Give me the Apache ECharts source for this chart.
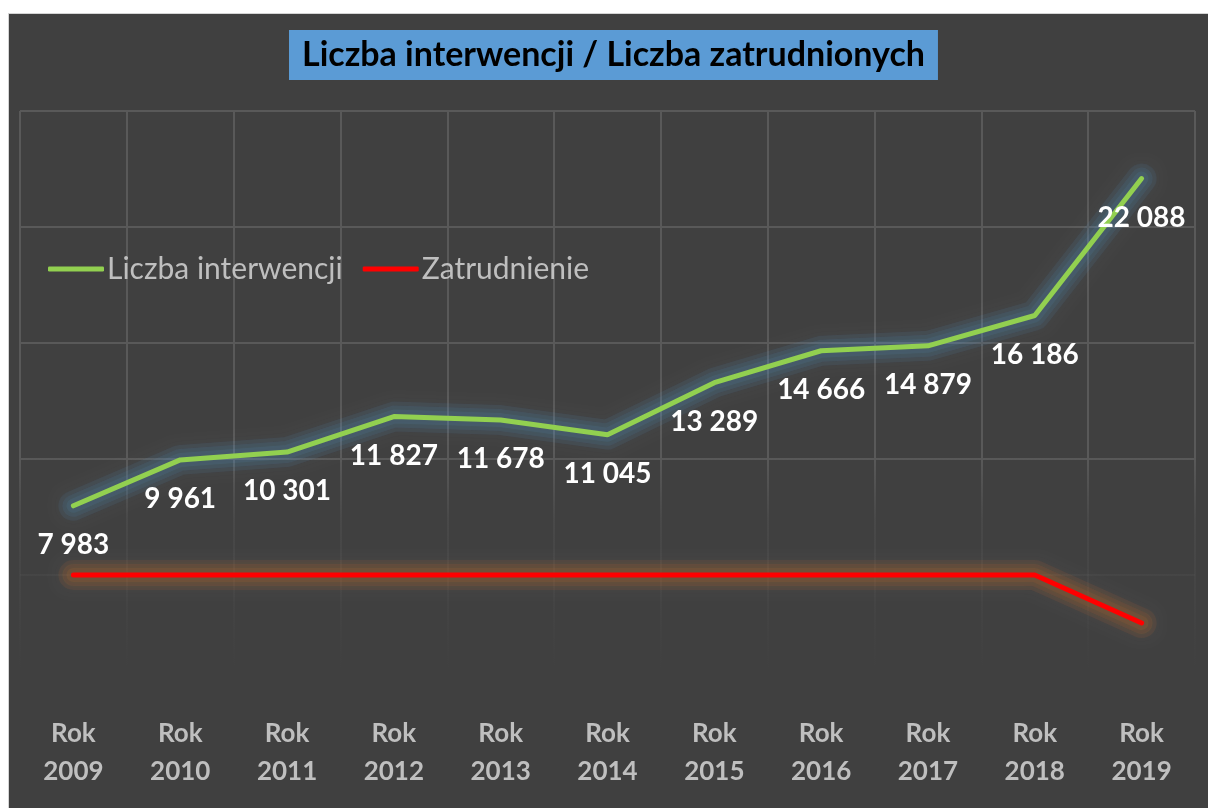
<!DOCTYPE html>
<html>
<head>
<meta charset="utf-8">
<script src="https://cdn.jsdelivr.net/npm/echarts@6/dist/echarts.min.js"></script>
<style>
  html, body { margin: 0; padding: 0; background: #ffffff; }
  #chart {
    position: absolute;
    left: 8px;
    top: 13px;
    width: 1199px;
    height: 794px;
    border-left: 1px solid #d4d4d4;
    border-top: 1px solid #d4d4d4;
  }
</style>
</head>
<body>
<div id="chart"></div>
<script>
// dane
const years = ['2009', '2010', '2011', '2012', '2013', '2014', '2015', '2016', '2017', '2018', '2019']
const interwencje = [7983, 9961, 10301, 11827, 11678, 11045, 13289, 14666, 14879, 16186, 22088]
const zatrudnienie = [5000, 5000, 5000, 5000, 5000, 5000, 5000, 5000, 5000, 5000, 2930]

const FONT = 'Lato'

const chart = echarts.init(document.getElementById('chart'))

// siatka wygasa ku dolowi
const gridFade = new echarts.graphic.LinearGradient(0, 97, 0, 655, [
  { offset: 0, color: '#595959' },
  { offset: 0.62, color: '#595959' },
  { offset: 0.73, color: 'rgba(89,89,89,0.35)' },
  { offset: 1, color: 'rgba(89,89,89,0)' }
], true)

const fmt = (v) => String(v).replace(/\B(?=(\d{3})+(?!\d))/g, ' ')

// kilka szerokich, prawie przezroczystych linii pod spodem = miekka poswiata
function glow (data, color) {
  return [30, 22, 14].map((w) => ({
    name: '_glow',
    type: 'line',
    data: data,
    symbol: 'none',
    silent: true,
    lineStyle: {
      color: color.replace('A', '0.09'),
      width: w,
      cap: 'round',
      join: 'round',
      shadowColor: color.replace('A', '0.25'),
      shadowBlur: 10
    },
    z: 1
  }))
}

const option = {
  backgroundColor: '#404040',
  textStyle: { fontFamily: FONT },
  title: {
    text: 'Liczba interwencji / Liczba zatrudnionych',
    left: 280,
    top: 16,
    padding: [8, 13, 8, 13],
    backgroundColor: '#5b9bd5',
    textStyle: {
      fontFamily: FONT,
      fontSize: 34,
      fontWeight: 'bold',
      color: '#000000'
    }
  },
  legend: {
    left: 39,
    top: 240,
    padding: 0,
    itemGap: 20,
    itemWidth: 56,
    itemHeight: 5,
    icon: 'roundRect',
    textStyle: { fontFamily: FONT, fontSize: 30, color: '#bfbfbf', padding: [0, 0, 0, -2] },
    data: ['Liczba interwencji', 'Zatrudnienie']
  },
  grid: {
    left: 11,
    right: 13,
    top: 97,
    bottom: 117
  },
  xAxis: {
    type: 'category',
    data: years,
    boundaryGap: true,
    axisLine: { show: false },
    axisTick: { show: false },
    axisLabel: {
      margin: 24,
      lineHeight: 38,
      fontFamily: FONT,
      fontSize: 26,
      fontWeight: 'bold',
      color: '#bfbfbf',
      formatter: (v) => 'Rok\n' + v
    },
    splitLine: { show: true, lineStyle: { color: gridFade, width: 2 } }
  },
  yAxis: {
    type: 'value',
    min: 0,
    max: 25000,
    interval: 5000,
    axisLabel: { show: false },
    axisLine: { show: false },
    axisTick: { show: false },
    splitLine: { show: true, lineStyle: { color: gridFade, width: 2 } }
  },
  series: [
    ...glow(interwencje, 'rgba(91,155,213,A)'),
    ...glow(zatrudnienie, 'rgba(237,125,49,A)'),
    {
      name: 'Liczba interwencji',
      type: 'line',
      data: interwencje,
      symbol: 'circle',
      symbolSize: 0,
      itemStyle: { color: '#92d050' },
      lineStyle: {
        color: '#92d050',
        width: 5,
        cap: 'round'
      },
      label: {
        show: true,
        position: 'bottom',
        distance: 25,
        fontFamily: FONT,
        fontSize: 28,
        fontWeight: 'bold',
        color: '#ffffff',
        formatter: (p) => fmt(p.value)
      },
      z: 3
    },
    {
      name: 'Zatrudnienie',
      type: 'line',
      data: zatrudnienie,
      symbol: 'circle',
      symbolSize: 0,
      itemStyle: { color: '#ff0000' },
      lineStyle: {
        color: '#ff0000',
        width: 5,
        cap: 'round'
      },
      z: 2
    }
  ]
}

chart.setOption(option)
</script>
</body>
</html>
